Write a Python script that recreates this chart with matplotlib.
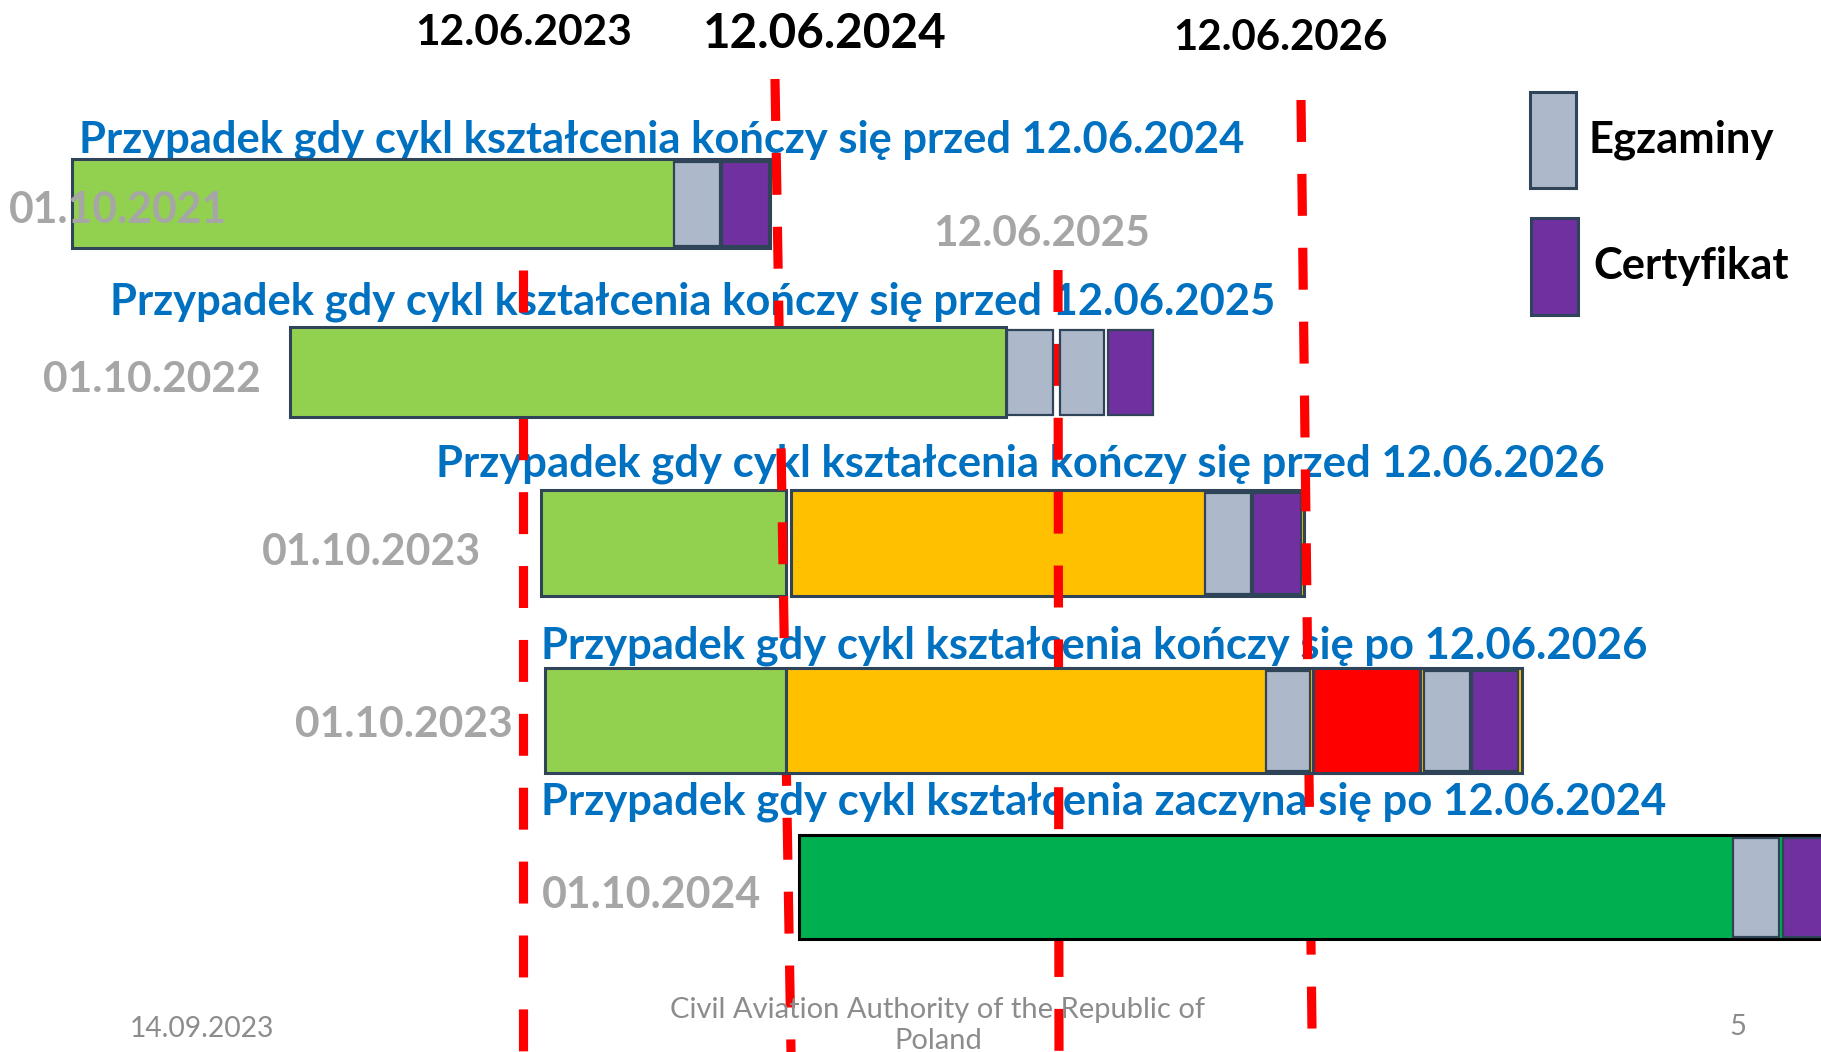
import matplotlib
matplotlib.use('Agg')
import matplotlib.pyplot as plt
from matplotlib.patches import Rectangle
from matplotlib import font_manager

W, H = 1821, 1052

# --- data (timeline, in slide units) ---
cutoff_dates = ['12.06.2023', '12.06.2024', '12.06.2025', '12.06.2026']
row_starts = ['01.10.2021', '01.10.2022', '01.10.2023', '01.10.2023', '01.10.2024']
row_titles = [
    'Przypadek gdy cykl kształcenia kończy się przed 12.06.2024',
    'Przypadek gdy cykl kształcenia kończy się przed 12.06.2025',
    'Przypadek gdy cykl kształcenia kończy się przed 12.06.2026',
    'Przypadek gdy cykl kształcenia kończy się po 12.06.2026',
    'Przypadek gdy cykl kształcenia zaczyna się po 12.06.2024',
]
# (from, to, kind) per row
row1 = [(72, 770, 'study'), (674, 720, 'exam'), (722, 769, 'cert')]
row2 = [(290, 1006, 'study'), (1007, 1053, 'exam'), (1060, 1104, 'exam'), (1108, 1153, 'cert')]
row3 = [(541, 786, 'study'), (791, 1304, 'transit'), (1205, 1251, 'exam'), (1253, 1301, 'cert')]
row4 = [(545, 786, 'study'), (786, 1522, 'transit'), (1266, 1310, 'exam'), (1313, 1420, 'extra'),
        (1424, 1470, 'exam'), (1472, 1518, 'cert')]
row5 = [(799, 1850, 'new'), (1733, 1779, 'exam'), (1783, 1850, 'cert')]
segments = [row1, row2, row3, row4, row5]
legend_labels = ['Egzaminy', 'Certyfikat']
footer_date = '14.09.2023'
footer_org = 'Civil Aviation Authority of the Republic of\nPoland'
page_no = '5'

# --- styles / layout ---
colors = {'study': '#92D050', 'transit': '#FFC000', 'extra': '#FF0000', 'new': '#00B050',
          'exam': '#ADB9CA', 'cert': '#7030A0'}
edge = '#2F4459'
blue = '#0070C0'
grey = '#A6A6A6'

row_y = [(159, 248), (327, 417), (490, 596), (668, 773), (835, 939)]
title_pos = [(79, 1246, 152), (110, 1276, 315), (436, 1604, 477), (541, 1647, 658), (541, 1667, 815)]
label_pos = [(9, 228, 223), (43, 261, 392), (262, 481, 565), (295, 513, 737), (542, 762, 908)]
# cutoff labels: (left, right, baseline, colour)
cutoff_pos = [(415, 632, 45, 'black'), (703, 947, 48, 'black'), (933, 1150, 246, grey),
              (1173, 1388, 50, 'black')]
# dashed lines: (x top, y top, x bottom, y bottom)
dash_lines = [(523, 270, 523, 1052), (775, 79, 791, 1052), (1058, 270, 1059, 1052),
              (1301, 100, 1312, 1030)]


def pick_font(names):
    for n in names:
        try:
            font_manager.findfont(n, fallback_to_default=False)
            return n
        except ValueError:
            pass
    return 'DejaVu Sans'


font = pick_font(['Lato', 'Open Sans', 'Roboto'])
plt.rcParams['font.family'] = [font, 'DejaVu Sans']

fig = plt.figure(figsize=(W / 100, H / 100), dpi=100)
ax = fig.add_axes([0, 0, 1, 1])
ax.set_xlim(0, W)
ax.set_ylim(H, 0)
ax.axis('off')
renderer = fig.canvas.get_renderer()


def put(x0, x1, y, s, **kw):
    t = ax.text(x0, y, s, ha='left', va='baseline', fontsize=20, **kw)
    w = t.get_window_extent(renderer).width
    t.set_fontsize(20 * (x1 - x0) / w)
    return t


# bars (row 3 sits under the dashed lines, others above)
for i, segs in enumerate(segments):
    top, bot = row_y[i]
    z = 1 if i == 2 else 4
    for (a, b, kind) in segs:
        inset = 2.5 if kind in ('exam', 'cert') else 0
        ec = 'black' if kind == 'new' else edge
        lw = 1.6 if kind in ('exam', 'cert') else 2.2
        ax.barh(top + inset, b - a, height=(bot - top) - 2 * inset, left=a, align='edge',
                color=colors[kind], edgecolor=ec, linewidth=lw, zorder=z)

# dashed cutoff lines
plt.rcParams['lines.scale_dashes'] = False
for (xa, ya, xb, yb) in dash_lines:
    ax.plot([xa, xb], [ya, yb], color='#FF0000', linewidth=6.6, dashes=(30.2, 23.0),
            solid_capstyle='butt', dash_capstyle='butt', zorder=3)

# titles above each row
for (x0, x1, y), s in zip(title_pos, row_titles):
    put(x0, x1, y, s, color=blue, fontweight='bold', zorder=2)

# start-date labels
for (x0, x1, y), s in zip(label_pos, row_starts):
    put(x0, x1, y, s, color=grey, fontweight='bold', zorder=5)

# cutoff date labels
for (x0, x1, y, c), s in zip(cutoff_pos, cutoff_dates):
    put(x0, x1, y, s, color=c, fontweight='bold', zorder=5)

# legend
ax.add_patch(Rectangle((1530, 92), 46, 96, facecolor=colors['exam'], edgecolor=edge, linewidth=2.2))
ax.add_patch(Rectangle((1531, 218), 47, 97, facecolor=colors['cert'], edgecolor=edge, linewidth=2.2))
put(1588, 1773, 153, legend_labels[0], color='black', fontweight='bold')
put(1593, 1789, 279, legend_labels[1], color='black', fontweight='bold')

# footer
put(130, 274, 1037, footer_date, color='#8C8C8C')
org1, org2 = footer_org.split('\n')
t = put(670, 1206, 1018, org1, color='#8C8C8C')
ax.text(938, 1049, org2, ha='center', va='baseline', fontsize=t.get_fontsize(), color='#8C8C8C')
ax.text(1746, 1035, page_no, ha='right', va='baseline', fontsize=t.get_fontsize(), color='#8C8C8C')

fig.savefig('out.png', dpi=100)
